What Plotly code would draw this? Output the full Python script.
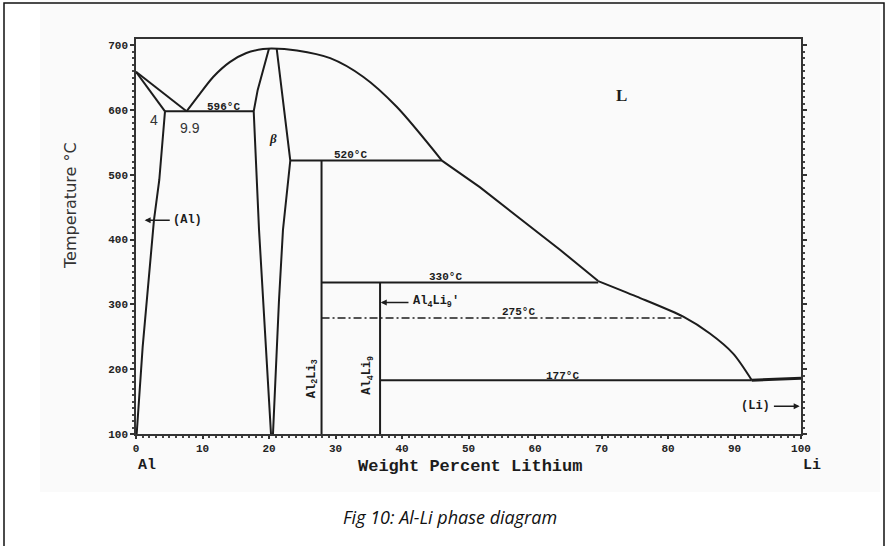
import plotly.graph_objects as go

# ---------------- data (wt% Li, temperature °C) ----------------
liq_al_x = [0, 7.6]
liq_al_t = [659, 598]
sol_al_x = [0, 4.36]
sol_al_t = [659, 598]
solvus_al_x = [4.36, 3.5, 2.7, 1.8, 1.0, 0.1]
solvus_al_t = [598, 492, 430, 330, 234, 100]
eut596_x = [4.36, 17.7]
eut596_t = [598, 598]
liq_arc_x = [7.6, 9.6, 11.6, 14.1, 16.6, 19.1, 20.4, 24.2, 29.2, 34.2, 39.2, 46.0]
liq_arc_t = [598, 625, 651, 674, 688, 694, 695, 692, 680, 651, 605, 522]
liq_mid_x = [46.0, 51.7, 63.8, 69.5]
liq_mid_t = [522, 481, 384, 336]
liq_li_x = [69.5, 75.3, 82.3, 86.3, 89.8, 92.6]
liq_li_t = [336, 312, 281, 255, 224, 183]
beta_left_x = [20.0, 18.3, 17.7, 18.5, 20.3]
beta_left_t = [695, 631, 598, 415, 100]
beta_right_x = [21.15, 22.3, 23.2, 22.1, 21.5, 20.6]
beta_right_t = [695, 600, 522, 415, 306, 100]
line520_x = [23.2, 46.0]
line520_t = [522, 522]
al2li3_x = [27.9, 27.9]
al2li3_t = [522, 100]
line330_x = [27.9, 69.5]
line330_t = [334, 334]
al4li9_x = [36.7, 36.7]
al4li9_t = [334, 100]
line275_x = [27.9, 82.3]
line275_t = [279, 279]
line177_x = [36.7, 92.6]
line177_t = [183, 183]
li_end_x = [92.6, 100]
li_end_t = [183, 186]

x_ticks = [0, 10, 20, 30, 40, 50, 60, 70, 80, 90, 100]
y_ticks = [100, 200, 300, 400, 500, 600, 700]

INK = "#1c1c1c"
MONO = "Liberation Mono"

fig = go.Figure()

def add_line(xs, ts, dash="solid", width=2, shape="linear"):
    fig.add_trace(go.Scatter(x=xs, y=ts, mode="lines",
                             line=dict(color=INK, width=width, dash=dash, shape=shape,
                                       smoothing=0.8),
                             hoverinfo="skip", showlegend=False))

for xs, ts in [(liq_al_x, liq_al_t), (sol_al_x, sol_al_t), (solvus_al_x, solvus_al_t),
               (eut596_x, eut596_t), (liq_mid_x, liq_mid_t),
               (beta_left_x, beta_left_t), (beta_right_x, beta_right_t),
               (line520_x, line520_t), (al2li3_x, al2li3_t), (line330_x, line330_t),
               (al4li9_x, al4li9_t), (line177_x, line177_t)]:
    add_line(xs, ts)
for xs, ts in [(liq_arc_x, liq_arc_t), (liq_li_x, liq_li_t)]:
    add_line(xs, ts, shape="spline")
add_line(li_end_x, li_end_t, width=3)
add_line(line275_x, line275_t, dash="8px,3px,2px,3px", width=1.6)

def txt(x, y, s, size=11, family=MONO, weight="bold", xanchor="center",
        yanchor="middle", angle=0, style="normal", xref="x", yref="y", color=INK):
    fig.add_annotation(x=x, y=y, text=s, showarrow=False, xref=xref, yref=yref,
                       xanchor=xanchor, yanchor=yanchor, textangle=angle,
                       font=dict(family=family, size=size, color=color,
                                 weight=weight, style=style))

# temperature labels
txt(-0.6, 659, "660.452°C", size=11, xanchor="right")
txt(13.1, 605, "596°C", size=11)
txt(32.2, 531, "520°C", size=11)
txt(46.5, 342, "330°C", size=11)
txt(57.5, 288, "275°C", size=11)
txt(64.2, 190, "177°C", size=11)
txt(100.8, 186, "180.6°C", size=11, xanchor="left")
txt(2.7, 585, "4", size=14, family="Liberation Sans", weight="normal", color="#333")
txt(8.1, 572, "9.9", size=14, family="Liberation Sans", weight="normal", color="#333")
txt(20.55, 556, "β", size=13, family="Liberation Serif", style="italic")
txt(73.0, 623, "L", size=17, family="Liberation Serif")
txt(26.6, 186, "Al<sub>2</sub>Li<sub>3</sub>", size=12, angle=-90)
txt(34.9, 190, "Al<sub>4</sub>Li<sub>9</sub>", size=12, angle=-90)
txt(41.3, 303, "Al<sub>4</sub>Li<sub>9</sub>'", size=12, xanchor="left")
txt(5.3, 430, "(Al)", size=12, xanchor="left")
txt(95.6, 143, "(Li)", size=12, xanchor="right")

# arrows
for hx, hy, tx, ty in [(36.8, 303, 41.2, 303), (99.8, 143, 95.7, 143), (1.3, 430, 5.3, 430)]:
    fig.add_annotation(x=hx, y=hy, ax=tx, ay=ty, xref="x", yref="y", axref="x", ayref="y",
                       text="", showarrow=True, arrowhead=2, arrowsize=0.8,
                       arrowwidth=1.5, arrowcolor=INK)

# axis-area labels (paper coords)
def px2paper(px, py):
    return (px - 136) / 665, (434 - py) / 395

xp, yp = px2paper(470, 466)
txt(xp, yp, "Weight Percent Lithium", size=17, xref="paper", yref="paper")
xp, yp = px2paper(147, 465)
txt(xp, yp, "Al", size=15, xref="paper", yref="paper")
xp, yp = px2paper(812, 465)
txt(xp, yp, "Li", size=15, xref="paper", yref="paper")
xp, yp = px2paper(70, 206)
txt(xp, yp, "Temperature °C", size=16, family="DejaVu Sans", weight="normal",
    angle=-90, xref="paper", yref="paper", color="#333")
xp, yp = px2paper(450, 517)
txt(xp, yp, "Fig 10: Al-Li phase diagram", size=18, family="Open Sans",
    weight="normal", style="italic", xref="paper", yref="paper", color="#111")

# background image region and outer frame
x0, y0 = px2paper(40, 0)
x1, y1 = px2paper(880, 492)
fig.add_shape(type="rect", xref="paper", yref="paper", x0=x0, y0=y1, x1=x1, y1=y0,
              fillcolor="#fafafa", line=dict(width=0), layer="below")
x0, y0 = px2paper(4, 3)
x1, y1 = px2paper(884, 600)
fig.add_shape(type="rect", xref="paper", yref="paper", x0=x0, y0=y1, x1=x1, y1=y0,
              line=dict(color="#111", width=1.5), fillcolor="rgba(0,0,0,0)")

axis_font = dict(family=MONO, size=11, color="#222", weight="bold")
fig.update_layout(
    width=888, height=546,
    margin=dict(l=136, r=87, t=39, b=112),
    paper_bgcolor="white", plot_bgcolor="#fcfcfc",
    xaxis=dict(range=[0, 100], tickvals=x_ticks, ticktext=[str(v) for v in x_ticks],
               ticks="outside", ticklen=3, tickwidth=1.5, tickcolor="#333",
               showline=True, linecolor="#333", linewidth=1.5, mirror=True,
               showgrid=False, zeroline=False, tickfont=axis_font,
               minor=dict(dtick=1, ticks="outside", ticklen=2, tickwidth=1.5,
                          tickcolor="#444", showgrid=False)),
    yaxis=dict(range=[100, 709.6], tickvals=y_ticks, ticktext=[str(v) for v in y_ticks],
               ticks="outside", ticklen=4, tickwidth=1.5, tickcolor="#333",
               showline=True, linecolor="#333", linewidth=1.5, mirror="ticks",
               showgrid=False, zeroline=False, tickfont=axis_font,
               minor=dict(dtick=10, ticks="outside", ticklen=2, tickwidth=1.5,
                          tickcolor="#444", showgrid=False)),
)

fig.write_html("out.html")
